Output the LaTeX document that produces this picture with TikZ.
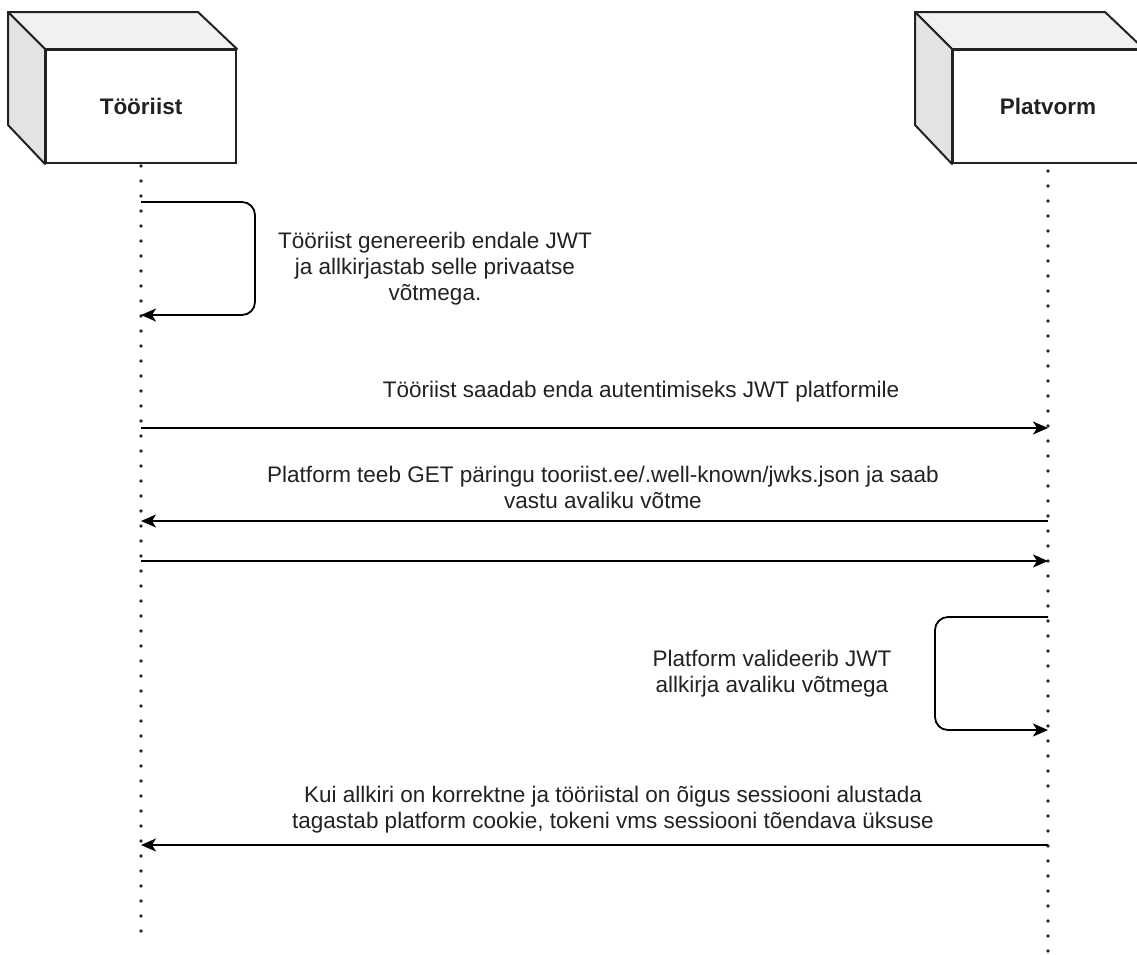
\documentclass[tikz,border=0pt]{standalone}
\usepackage{fontspec}
\setmainfont{Liberation Sans}
\usetikzlibrary{arrows.meta}
\definecolor{ink}{HTML}{222222}
\definecolor{topface}{HTML}{F1F1F1}
\definecolor{sideface}{HTML}{E3E3E3}
\tikzset{
  front/.style={draw=ink, line width=2pt, fill=white, minimum width=190pt, minimum height=113pt, inner sep=0pt, font=\fontsize{22.5}{26}\selectfont\bfseries, text=ink},
  face/.style={draw=ink, line width=2pt, line join=round},
  lifeline/.style={draw=black!85, line width=3.8pt, dash pattern=on 0pt off 15pt, line cap=round},
  msg/.style={draw=black, line width=1.8pt, -{Stealth[length=15pt,width=13pt,inset=4pt]}},
  loopmsg/.style={msg, rounded corners=13pt},
  lbl/.style={font=\fontsize{22.5}{26}\selectfont, text=ink, align=center, inner sep=0pt}
}
\begin{document}
\begin{tikzpicture}[x=1pt,y=-1pt]
\clip (0,0) rectangle (1137,954);
\fill[white] (0,0) rectangle (1137,954);
% boxes
\node[front] (t) at (141,106.5) {Tööriist};
\node[front] (p) at (1048,106.5) {Platvorm};
\foreach \b in {t,p}{
  \draw[face, fill=topface] (\b.north west) -- ++(-37,-37) -- ++(190,0) -- (\b.north east) -- cycle;
  \draw[face, fill=sideface] (\b.north west) -- ++(-37,-37) -- ++(0,113) -- (\b.south west) -- cycle;
}
% lifelines
\coordinate (tend) at (141,940);
\coordinate (pend) at (1048,962);
\draw[lifeline] ([yshift=-2pt]t.south) -- (tend);
\draw[lifeline] ([yshift=-7pt]p.south) -- (pend);
% message anchors
\coordinate (t1) at (141,202);
\coordinate (t2) at (141,315);
\coordinate (t3) at (141,428);
\coordinate (p3) at (1048,428);
\coordinate (t4) at (141,521);
\coordinate (p4) at (1048,521);
\coordinate (t5) at (141,561);
\coordinate (p5) at (1048,561);
\coordinate (p6) at (1048,617);
\coordinate (p7) at (1048,730);
\coordinate (t8) at (141,845);
\coordinate (p8) at (1048,845);
% messages
\draw[loopmsg] (t1) -| (255,258) |- (t2);
\draw[msg] (t3) -- (p3);
\draw[msg] (p4) -- (t4);
\draw[msg] (t5) -- (p5);
\draw[loopmsg] (p6) -| (935,673) |- (p7);
\draw[msg] (p8) -- (t8);
% labels
\node[lbl] (l1) at (435,269) {Tööriist genereerib endale JWT\\ja allkirjastab selle privaatse\\võtmega.};
\node[lbl] (l2) at (641,392) {Tööriist saadab enda autentimiseks JWT platformile};
\node[lbl] (l3) at (603,487.5) {Platform teeb GET päringu tooriist.ee/.well-known/jwks.json ja saab\\vastu avaliku võtme};
\node[lbl] (l4) at (772,673.5) {Platform valideerib JWT\\allkirja avaliku võtmega};
\node[lbl] (l5) at (613,809.5) {Kui allkiri on korrektne ja tööriistal on õigus sessiooni alustada\\tagastab platform cookie, tokeni vms sessiooni tõendava üksuse};
\end{tikzpicture}
\end{document}
